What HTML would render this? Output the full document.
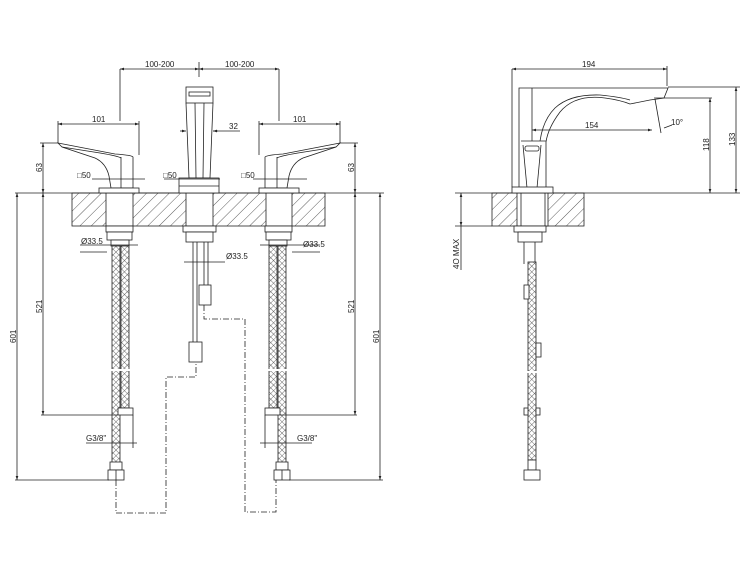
<!DOCTYPE html>
<html><head><meta charset="utf-8"><style>
html,body{margin:0;padding:0;background:#fff;width:750px;height:583px;overflow:hidden}
svg text{font-family:"Liberation Sans",sans-serif;font-size:8px;fill:#222}
</style></head><body>
<svg width="750" height="583" viewBox="0 0 750 583" xmlns="http://www.w3.org/2000/svg">
<defs>
<pattern id="h" width="8" height="8" patternUnits="userSpaceOnUse" patternTransform="rotate(45)">
<line x1="0" y1="0" x2="0" y2="8" stroke="#333" stroke-width="0.8"/></pattern>
<pattern id="x" width="4" height="4" patternUnits="userSpaceOnUse" patternTransform="rotate(45)">
<rect width="4" height="4" fill="#fff"/><path d="M0 0H4M0 0V4" stroke="#444" stroke-width="0.8"/></pattern>
<marker id="a" viewBox="0 0 6 6" refX="6" refY="3" markerWidth="5" markerHeight="5" orient="auto-start-reverse"><path d="M0 1L6 3L0 5z" fill="#222"/></marker>
<g id="handle">
<path d="M58,143 L115,154 Q131,155 133,157 L133,188 L111,188 L109,176 Q106,163 95,158 L62,147 Z" fill="#fff"/>
<path d="M62,147 L100,153 Q118,156 121,158" fill="none"/>
<line x1="121" y1="157" x2="121" y2="188"/>
<rect x="99" y="188" width="40" height="5" fill="#fff"/>
</g>
<g id="hoses">
<rect x="106" y="226" width="27" height="6" fill="#fff"/>
<rect x="107" y="232" width="25" height="8" fill="#fff"/>
<rect x="111" y="240" width="18" height="6" fill="#fff"/>
<rect x="112" y="246" width="8" height="224" fill="url(#x)"/>
<rect x="121" y="246" width="8" height="162" fill="url(#x)"/>
<line x1="110" y1="370" x2="132" y2="370" stroke="#fff" stroke-width="2"/>
<rect x="118" y="408" width="15" height="7" fill="#fff"/>
<rect x="110" y="462" width="12" height="8" fill="#fff"/>
<rect x="108" y="470" width="16" height="10" fill="#fff"/>
<line x1="116" y1="470" x2="116" y2="480"/>
</g>
</defs>
<g stroke="#222" stroke-width="0.8" fill="none">
<!-- slab left -->
<rect x="72" y="193" width="253" height="33" fill="url(#h)"/>
<rect x="106" y="193" width="27" height="33" fill="#fff"/>
<rect x="186" y="193" width="27" height="33" fill="#fff"/>
<rect x="266" y="193" width="26" height="33" fill="#fff"/>
<line x1="15" y1="193" x2="384" y2="193"/>
<!-- handles -->
<use href="#handle"/>
<use href="#handle" transform="translate(398,0) scale(-1,1)"/>
<!-- spout -->
<rect x="186" y="87" width="27" height="16" fill="#fff"/>
<rect x="189" y="92" width="21" height="4"/>
<path d="M186,103 L189,178 L210,178 L213,103"/>
<path d="M195,103 L196,178 M204,103 L203,178"/>
<rect x="179" y="178" width="40" height="15" fill="#fff"/>
<line x1="179" y1="186" x2="219" y2="186"/>
<rect x="183" y="226" width="33" height="6" fill="#fff"/>
<rect x="186" y="232" width="27" height="10" fill="#fff"/>
<path d="M193,242 V362 M197,242 V342 M204,242 V285 M208,242 V285"/>
<rect x="199" y="285" width="12" height="20" fill="#fff"/>
<rect x="189" y="342" width="13" height="20" fill="#fff"/>
<!-- hoses -->
<use href="#hoses"/>
<use href="#hoses" transform="translate(398,0) scale(-1,1)"/>
<!-- dashed -->
<path d="M116,480 V513 H166 V377 H196 V362" stroke-dasharray="6,2,1,2"/>
<path d="M204,305 V319 H245 V512 H276 V480" stroke-dasharray="6,2,1,2"/>
<!-- dims left -->
<path d="M120,69 V121 M279,69 V121 M199,62 V77"/>
<line x1="120" y1="69" x2="199" y2="69" marker-start="url(#a)" marker-end="url(#a)"/>
<line x1="199" y1="69" x2="279" y2="69" marker-start="url(#a)" marker-end="url(#a)"/>
<path d="M58,121 V143 M139,121 V155 M340,121 V143 M259,121 V155"/>
<line x1="58" y1="124" x2="139" y2="124" marker-start="url(#a)" marker-end="url(#a)"/>
<line x1="259" y1="124" x2="340" y2="124" marker-start="url(#a)" marker-end="url(#a)"/>
<line x1="180" y1="131" x2="186" y2="131" marker-end="url(#a)"/>
<line x1="218" y1="131" x2="213" y2="131" marker-end="url(#a)"/>
<line x1="213" y1="131" x2="240" y2="131"/>
<path d="M40,143 H58 M340,143 H358"/>
<line x1="43" y1="143" x2="43" y2="193" marker-start="url(#a)" marker-end="url(#a)"/>
<line x1="355" y1="143" x2="355" y2="193" marker-start="url(#a)" marker-end="url(#a)"/>
<line x1="17" y1="193" x2="17" y2="480" marker-start="url(#a)" marker-end="url(#a)"/>
<line x1="43" y1="193" x2="43" y2="415" marker-start="url(#a)" marker-end="url(#a)"/>
<line x1="380" y1="193" x2="380" y2="480" marker-start="url(#a)" marker-end="url(#a)"/>
<line x1="355" y1="193" x2="355" y2="415" marker-start="url(#a)" marker-end="url(#a)"/>
<path d="M15,480 H109 M41,415 H118 M289,480 H383 M280,415 H357"/>
<path d="M92,179 H145 M164,179 H220 M253,179 H307" />
<path d="M80,245 H138 M184,262 H225 M260,245 H320 M80,252 H107 M292,252 H320"/>
<path d="M86,443 H137 M260,443 H312"/>
<path d="M133,415 V448 M265,415 V448"/>
<!-- slab right -->
<rect x="492" y="193" width="92" height="33" fill="url(#h)"/>
<rect x="517" y="193" width="31" height="33" fill="#fff"/>
<path d="M521,193 V226 M545,193 V226"/>
<line x1="455" y1="193" x2="740" y2="193"/>
<line x1="455" y1="226" x2="492" y2="226"/>
<!-- side spout -->
<path d="M519,188 V88 H668 L664,98 L650,100 L630,104 Q620,100 605,98 Q575,94 560,112 Q548,128 546,142 L546,188" fill="#fff"/>
<path d="M532,88 V141"/>
<path d="M540,141 Q543,120 555,108 Q570,94 600,95 Q620,97 630,100"/>
<path d="M521,141 H546 M523,145 L527,188 M541,145 L537,188"/>
<rect x="525" y="146" width="14" height="5" rx="2"/>
<rect x="512" y="187" width="41" height="6" fill="#fff"/>
<rect x="514" y="226" width="32" height="6" fill="#fff"/>
<rect x="518" y="232" width="24" height="10" fill="#fff"/>
<path d="M524,242 V264 M535,242 V340"/>
<rect x="528" y="262" width="8" height="198" fill="url(#x)"/>
<line x1="526" y1="372" x2="538" y2="372" stroke="#fff" stroke-width="2"/>
<rect x="524" y="285" width="5" height="14" fill="#fff"/>
<rect x="536" y="343" width="5" height="14" fill="#fff"/>
<rect x="524" y="408" width="4" height="7" fill="#fff"/>
<rect x="536" y="408" width="4" height="7" fill="#fff"/>
<rect x="528" y="460" width="8" height="10" fill="#fff"/>
<rect x="524" y="470" width="16" height="10" fill="#fff"/>
<!-- dims right -->
<path d="M512,69 V187 M667,66 V86"/>
<line x1="512" y1="69" x2="667" y2="69" marker-start="url(#a)" marker-end="url(#a)"/>
<line x1="532" y1="130" x2="652" y2="130" marker-start="url(#a)" marker-end="url(#a)"/>
<path d="M655,99 L661,133 M664,128 L672,125"/>
<path d="M668,87 H740 M654,98 H712"/>
<line x1="710" y1="98" x2="710" y2="193" marker-start="url(#a)" marker-end="url(#a)"/>
<line x1="736" y1="87" x2="736" y2="193" marker-start="url(#a)" marker-end="url(#a)"/>
<line x1="461" y1="193" x2="461" y2="226" marker-start="url(#a)" marker-end="url(#a)"/>
<line x1="461" y1="226" x2="461" y2="270"/>
</g>
<g>
<text x="145" y="67">100-200</text><text x="225" y="67">100-200</text>
<text x="92" y="122">101</text><text x="293" y="122">101</text>
<text x="229" y="129">32</text>
<text x="77" y="178">□50</text><text x="163" y="178">□50</text><text x="241" y="178">□50</text>
<text x="81" y="244">Ø33.5</text><text x="226" y="259">Ø33.5</text><text x="303" y="247">Ø33.5</text>
<text x="86" y="441">G3/8"</text><text x="297" y="441">G3/8"</text>
<text transform="translate(42,172) rotate(-90)">63</text>
<text transform="translate(354,172) rotate(-90)">63</text>
<text transform="translate(16,343) rotate(-90)">601</text>
<text transform="translate(42,313) rotate(-90)">521</text>
<text transform="translate(379,343) rotate(-90)">601</text>
<text transform="translate(354,313) rotate(-90)">521</text>
<text x="582" y="67">194</text>
<text x="585" y="128">154</text>
<text x="671" y="125">10°</text>
<text transform="translate(709,151) rotate(-90)">118</text>
<text transform="translate(735,146) rotate(-90)">133</text>
<text transform="translate(459,269) rotate(-90)">4O MAX</text>
</g>
</svg>
</body></html>
